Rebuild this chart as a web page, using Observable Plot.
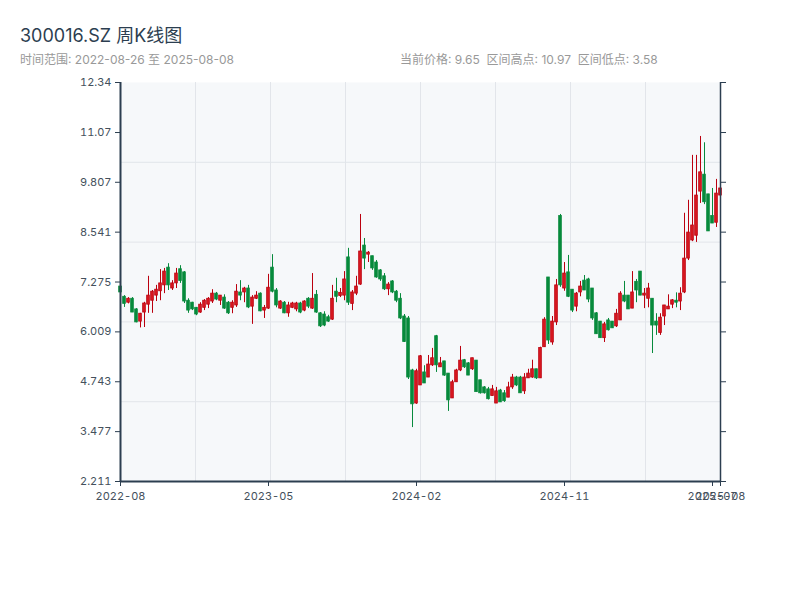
<!DOCTYPE html>
<html>
<head>
<meta charset="utf-8">
<script src="https://cdn.jsdelivr.net/npm/d3@7"></script>
<script src="https://cdn.jsdelivr.net/npm/@observablehq/plot@0.6"></script>
<style>
  html, body { margin: 0; padding: 0; background: #fff; }
  body { width: 800px; height: 600px; position: relative; font-family: Inter, "Noto Sans CJK SC", sans-serif; }
  #title { position: absolute; left: 20px; top: 21px; font-size: 18px; color: #2c3e50; }
  .sub { position: absolute; top: 50px; font-size: 12px; color: #999; white-space: pre; }
  #chart { position: absolute; left: 0; top: 70px; }
</style>
</head>
<body>
<div id="title">300016.SZ 周K线图</div>
<div class="sub" style="left:20px">时间范围: 2022-08-26 至 2025-08-08</div>
<div class="sub" style="left:400px">当前价格: 9.65  区间高点: 10.97  区间低点: 3.58</div>
<div id="chart"></div>
<script>
// Weekly OHLC (151 trading weeks, 2022-08-26 .. 2025-08-08)
const open = [
7.16,6.90,6.75,6.85,6.58,6.27,6.50,6.70,6.80,6.93,7.04,7.19,7.64,7.11,7.24,7.60,7.52,6.80,6.75,6.62,
6.50,6.62,6.70,6.78,6.98,6.80,6.88,6.75,6.62,6.68,7.01,7.01,7.11,6.65,6.85,6.98,6.55,6.60,7.64,7.06,
6.60,6.75,6.48,6.62,6.58,6.73,6.55,6.85,6.60,6.95,6.48,6.45,6.38,6.32,7.03,6.92,6.93,7.90,6.72,6.98,
7.21,8.20,7.97,7.93,7.77,7.57,7.42,7.09,7.29,7.03,6.85,6.40,6.35,5.03,4.19,4.65,4.98,4.85,5.16,5.90,
5.11,5.26,4.95,4.32,4.73,5.03,5.29,5.21,5.06,5.28,4.78,4.60,4.55,4.38,4.19,4.52,4.45,4.34,4.60,4.85,
4.85,4.50,4.83,4.85,5.06,4.83,5.62,7.39,5.74,6.25,8.95,7.11,7.52,7.08,6.65,7.01,7.31,7.34,7.11,6.48,
6.27,5.85,6.30,6.27,6.15,6.30,6.93,6.93,6.60,7.28,7.54,6.93,6.85,6.85,6.27,5.98,6.40,6.58,6.70,6.80,
6.78,7.01,7.87,8.33,8.45,9.57,10.00,9.50,8.95,8.78,9.47];
const high = [
7.18,6.93,6.88,6.88,6.60,6.48,6.76,7.42,7.06,7.19,7.59,7.62,7.74,7.31,7.62,7.69,7.54,6.85,6.76,6.63,
6.75,6.83,6.88,7.08,7.01,6.93,6.95,6.78,6.80,7.21,7.31,7.14,7.19,6.93,7.03,7.00,6.68,7.47,7.97,7.11,
6.80,6.78,6.76,6.76,6.76,6.76,6.80,6.88,7.49,7.06,6.50,6.52,6.43,7.19,7.37,7.11,7.54,8.13,7.06,7.42,
8.99,8.38,8.05,7.93,7.82,7.59,7.49,7.26,7.31,7.06,6.98,6.45,6.40,5.06,5.06,5.41,5.15,5.41,5.59,5.92,
5.36,5.26,4.95,4.78,5.06,5.64,5.31,5.23,5.34,5.28,4.78,4.62,4.60,4.65,4.60,4.55,4.52,4.73,4.93,4.88,
4.88,4.95,5.06,5.29,5.06,5.62,6.37,7.39,6.40,7.34,8.99,7.77,7.95,7.08,7.01,7.29,7.44,7.37,7.11,6.50,
6.27,6.25,6.35,6.27,6.58,7.03,7.29,6.93,7.54,7.34,7.54,7.11,7.24,6.85,6.47,6.47,6.68,6.95,6.83,7.00,
7.13,9.02,9.35,10.49,10.49,10.97,10.81,9.50,9.65,9.88,10.26];
const low = [
7.00,6.63,6.72,6.50,6.24,6.11,6.12,6.48,6.48,6.78,6.80,6.98,7.06,7.06,7.11,7.24,6.73,6.48,6.55,6.42,
6.48,6.55,6.60,6.73,6.80,6.68,6.58,6.45,6.47,6.63,6.80,6.75,6.60,6.20,6.83,6.52,6.35,6.58,7.00,6.62,
6.58,6.47,6.38,6.60,6.52,6.47,6.52,6.60,6.58,6.48,6.12,6.14,6.25,6.30,6.75,6.88,6.80,6.68,6.55,6.93,
7.19,7.59,7.77,7.57,7.37,7.29,7.06,6.93,6.98,6.75,6.32,5.74,4.80,3.58,4.17,4.65,4.70,4.85,5.13,4.98,
5.11,4.88,3.99,4.32,4.73,5.00,5.08,4.90,5.03,4.48,4.43,4.43,4.28,4.38,4.19,4.22,4.22,4.34,4.55,4.62,
4.45,4.42,4.83,4.83,4.80,4.83,5.62,5.69,5.67,6.17,7.14,7.04,6.88,6.50,6.52,6.90,7.06,6.75,6.30,5.95,
5.85,5.74,6.03,6.10,6.12,6.30,6.75,6.58,6.60,6.75,6.93,6.60,6.62,5.46,5.92,5.92,6.17,6.58,6.60,6.62,
6.55,6.98,7.82,8.30,8.28,9.27,9.24,8.56,8.76,8.66,9.09];
const close = [
7.01,6.72,6.85,6.50,6.25,6.47,6.73,6.93,7.03,7.08,7.24,7.54,7.19,7.24,7.49,7.30,6.78,6.55,6.58,6.45,
6.70,6.80,6.85,6.98,6.83,6.93,6.60,6.48,6.75,7.03,6.93,7.11,6.63,6.88,6.93,6.53,6.62,7.13,7.03,6.68,
6.78,6.48,6.68,6.73,6.73,6.50,6.78,6.65,6.85,6.50,6.15,6.17,6.27,6.85,6.90,7.00,7.34,6.75,7.01,7.16,
8.05,7.87,8.02,7.62,7.39,7.34,7.09,7.21,7.01,6.80,6.35,5.75,4.85,4.17,5.01,5.39,4.70,5.18,5.34,5.16,
5.21,4.90,4.27,4.73,5.03,5.28,5.11,4.90,5.34,4.48,4.45,4.45,4.30,4.55,4.50,4.22,4.25,4.60,4.85,4.65,
4.45,4.85,4.95,5.06,4.83,5.60,6.32,5.79,6.27,7.19,7.19,7.49,6.90,6.55,6.98,7.16,7.06,6.83,6.35,5.95,
5.85,6.20,6.05,6.10,6.47,6.98,6.78,6.58,7.01,7.06,6.93,6.98,7.11,6.17,6.17,6.37,6.68,6.65,6.81,6.75,
6.98,7.87,8.53,8.71,9.47,10.06,9.30,8.56,8.76,9.52,9.65];

// Axis ticks
const xTickIndex = [0, 37, 74, 111, 148, 150];
const xTickLabels = ["2022-08", "2023-05", "2024-02", "2024-11", "2025-07", "2025-08"];
const yTicks = [2.211, 3.477, 4.743, 6.009, 7.275, 8.541, 9.807, 11.07, 12.34];

const data = open.map((o, i) => ({i, open: o, high: high[i], low: low[i], close: close[i], up: close[i] >= o}));
const n = open.length - 1;
const yMin = yTicks[0], yMax = yTicks[yTicks.length - 1];
const gridX = d3.range(1, 8).map(k => n * k / 8);
const gridY = d3.range(1, 5).map(k => yMin + (yMax - yMin) * k / 5);

const UP = "#d81820", UP_EDGE = "#bb000e", DOWN = "#078a3c";
const AX = "#2c3e50";

const chart = Plot.plot({
  width: 800,
  height: 460,
  marginLeft: 120,
  marginRight: 80,
  marginTop: 12,
  marginBottom: 49,
  style: {fontFamily: 'Inter, "Noto Sans CJK SC", sans-serif', fontSize: "11px", color: "#44505c", background: "transparent"},
  x: {type: "linear", domain: [0, n], axis: null},
  y: {domain: [yMin, yMax], axis: null},
  marks: [
    Plot.frame({fill: "#f6f8fa", stroke: null}),
    Plot.ruleX(gridX, {stroke: "#e2e5ea", strokeWidth: 1}),
    Plot.ruleY(gridY, {stroke: "#e2e5ea", strokeWidth: 1}),
    Plot.ruleX(data, {x: "i", y1: "low", y2: "high", stroke: d => d.up ? UP_EDGE : DOWN, strokeWidth: 1}),
    Plot.rect(data, {
      x1: d => d.i - 0.33, x2: d => d.i + 0.33,
      y1: "open", y2: "close",
      fill: d => d.up ? UP : DOWN,
      stroke: d => d.up ? UP_EDGE : DOWN,
      strokeWidth: 0.8
    }),
    Plot.ruleX([0], {stroke: AX, strokeWidth: 2}),
    Plot.ruleX([n], {stroke: AX, strokeWidth: 1.5}),
    Plot.ruleY([yMin], {stroke: AX, strokeWidth: 2}),
    Plot.axisY({anchor: "left", ticks: yTicks, tickFormat: d => String(d), tickSize: 5, tickPadding: 4, stroke: AX, label: null}),
    Plot.axisY({anchor: "right", ticks: yTicks, tickFormat: () => "", tickSize: 5, stroke: AX, label: null}),
    Plot.axisX({anchor: "bottom", ticks: xTickIndex, tickFormat: (d) => xTickLabels[xTickIndex.indexOf(d)], tickSize: 5, tickPadding: 6, stroke: AX, label: null})
  ]
});
document.getElementById("chart").appendChild(chart);
</script>
</body>
</html>
